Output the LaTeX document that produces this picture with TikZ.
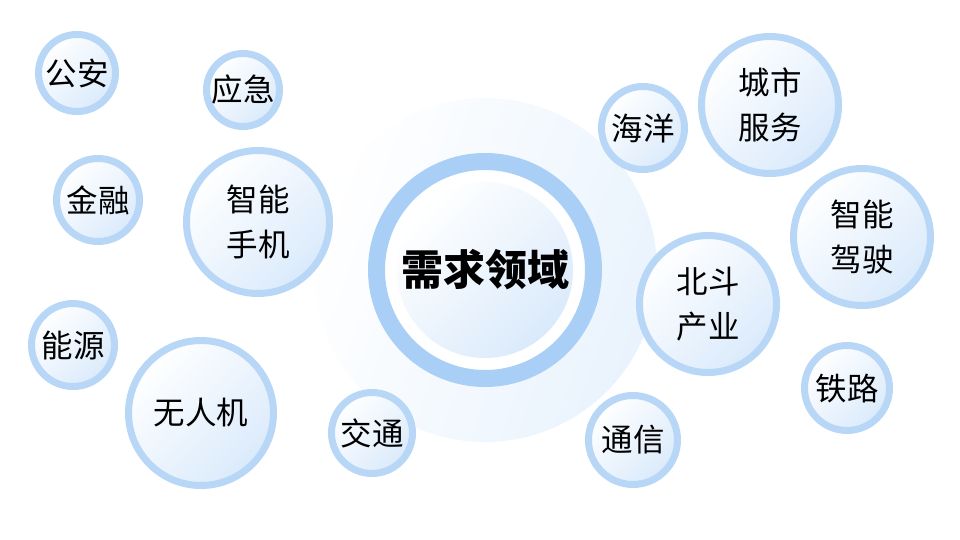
\documentclass[tikz,border=0pt]{standalone}
\usepackage{fontspec}
\newfontfamily\cjk{Noto Sans CJK SC}
\usepackage{tikz}
\definecolor{ringblue}{HTML}{B8D7F7}
\definecolor{hubblue}{HTML}{AACFF7}
\definecolor{discblue}{HTML}{DAEAFB}
\definecolor{haloblue}{HTML}{E9F3FD}
\tikzset{
    bubble/.style={circle, draw=ringblue, line width=7pt, inner sep=0pt,
        top color=white, bottom color=discblue, shading angle=45,
        minimum size=#1, align=center, text=black,
        font=\cjk\fontsize{31.5}{45}\selectfont},
}

\begin{document}
\begin{tikzpicture}[x=1pt,y=-1pt]
\useasboundingbox (0,0) rectangle (960,540);
\shade[left color=white, right color=haloblue, shading angle=70] (485,270) circle (172pt);

\node[circle, draw=hubblue, line width=17pt, fill=white, minimum size=217pt] (hubring) at (485,270) {};
\node[circle, inner sep=0pt, minimum size=176pt, top color=white, bottom color=discblue, shading angle=45,
      font=\cjk\bfseries\fontsize{42}{48}\selectfont] (hub) at (hubring) {需求领域};

\node[bubble=77pt]  (gongan)   at (77,73)   {公安};
\node[bubble=73pt]  (yingji)   at (243,90)  {应急};
\node[bubble=83pt]  (jinrong)  at (98,200)  {金融};
\node[bubble=143pt] (phone)    at (258,222) {智能\\手机};
\node[bubble=83pt]  (nengyuan) at (73,345)  {能源};
\node[bubble=145pt] (drone)    at (201,413) {无人机};
\node[bubble=81pt]  (jiaotong) at (372,433) {交通};
\node[bubble=83pt]  (haiyang)  at (643,128) {海洋};
\node[bubble=137pt] (city)     at (770,105) {城市\\服务};
\node[bubble=137pt] (driving)  at (862,237) {智能\\驾驶};
\node[bubble=137pt] (beidou)   at (708,304) {北斗\\产业};
\node[bubble=85pt]  (tielu)    at (847,388) {铁路};
\node[bubble=89pt]  (tongxin)  at (633,440) {通信};
\end{tikzpicture}
\end{document}
